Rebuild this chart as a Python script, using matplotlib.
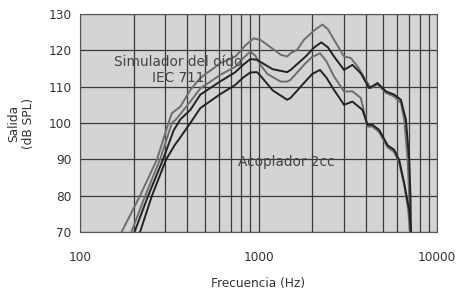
import numpy as np
from matplotlib import pyplot as plt

# Simulador del oido IEC 711 (upper gray / upper dark)
freq_a = [171, 217, 270, 313, 327, 365, 415, 472, 613, 742, 850, 940, 1030, 1122, 1330, 1446,
          1513, 1650, 1797, 2050, 2280, 2450, 2649, 3015, 3288, 3585, 4258, 4644, 5171, 5756,
          6277, 6551, 6846, 6990, 7100]
spl_a = [70, 80, 90, 100, 102.7, 104.5, 109.1, 112.4, 116.5, 118.3, 121.5, 123.3, 122.8, 121.5,
         118.8, 118.3, 119.2, 120.2, 122.9, 125.5, 127.1, 125.8, 122.9, 118.3, 117.9, 115.6,
         109.6, 110.7, 108.3, 107.3, 105.5, 101, 90, 80, 70]

freq_b = [202, 241, 292, 335, 365, 415, 472, 613, 742, 820, 900, 980, 1026, 1200, 1446, 1513,
          1837, 2050, 2250, 2450, 2649, 3015, 3361, 3741, 4166, 4644, 5171, 5756, 6277, 6696,
          6989, 7100, 7144]
spl_b = [70, 80, 90, 98, 101, 103.6, 107.8, 111.5, 114, 116, 117.6, 117.4, 116.8, 114.8, 114,
         114.6, 118.3, 120.8, 122.2, 120.8, 118.3, 114.6, 116, 113.7, 109.6, 111, 108.7, 107.8,
         106.4, 100.9, 89.9, 80, 70]

# Acoplador 2cc (lower gray / lower dark)
freq_c = [194, 232, 281, 327, 345, 415, 472, 613, 742, 820, 900, 960, 1026, 1122, 1330, 1446,
          1513, 1837, 2000, 2211, 2400, 2649, 3015, 3361, 3741, 4080, 4353, 4741, 5285, 5756,
          6140, 6551, 6900, 7052]
spl_c = [70, 80, 90, 100, 101, 105.9, 109.5, 113.3, 115.5, 117.8, 119.7, 118.5, 116, 113.5,
         111.4, 111.4, 111.9, 116.5, 118.2, 119.2, 117, 112.8, 108.7, 108.7, 106.9, 99, 99, 97.5,
         93.3, 92, 89, 83, 76, 70]

freq_d = [217, 253, 304, 340, 357, 415, 472, 613, 742, 820, 900, 980, 1026, 1200, 1446, 1513,
          1797, 2000, 2211, 2400, 2649, 3015, 3361, 3825, 4080, 4353, 4741, 5285, 5756, 6140,
          6551, 6989, 7144]
spl_d = [70, 80, 90, 94, 95.4, 100, 104.1, 108, 110.5, 112.5, 113.9, 114, 113, 109, 106.4,
         106.9, 111, 113.5, 114.6, 112.5, 109.1, 105, 105.9, 103.6, 99.5, 99.5, 98.1, 93.9,
         92.6, 89.8, 83.4, 76, 70]

gray = "#6e6e6e"
dark = "#222222"
txt = "#444444"

fig = plt.figure(figsize=(4.62, 2.93), dpi=100)
ax = fig.add_axes([80/462, 1-232/293, 357/462, 218/293])
ax.set_facecolor("#d4d4d4")

for f, s, c in [(freq_a, spl_a, gray), (freq_c, spl_c, gray),
                (freq_b, spl_b, dark), (freq_d, spl_d, dark)]:
    ax.plot(f, s, color=c, lw=1.4, zorder=3, solid_joinstyle="round")

ax.set_xscale("log")
ax.set_xlim(100, 10000)
ax.set_ylim(70, 130)
ax.set_yticks(range(70, 131, 10))
ax.set_xticks([100, 1000, 10000])
ax.set_xticklabels(["100", "1000", "10000"])
ax.grid(True, which="both", color="#3a3a3a", lw=0.9, zorder=1)
ax.set_axisbelow(True)
ax.tick_params(which="both", length=0, labelsize=8.7, labelcolor="#333333")
ax.tick_params(axis="x", pad=14)
ax.tick_params(axis="y", pad=6)
for sp in ax.spines.values():
    sp.set_color("#555555")
    sp.set_linewidth(0.8)

ax.set_xlabel("Frecuencia (Hz)", fontsize=8.7, color="#333333", labelpad=9)
ax.set_ylabel("Salida\n(dB SPL)", fontsize=8.7, color="#333333", labelpad=10, linespacing=1.1)

ax.text(355, 114.6, "Simulador del oído\nIEC 711", fontsize=9.8, color=txt,
        ha="center", va="center", multialignment="center", linespacing=1.2, zorder=4)
ax.text(1437, 89.3, "Acoplador 2cc", fontsize=9.8, color=txt, ha="center", va="center", zorder=4)

plt.savefig("out.png")
